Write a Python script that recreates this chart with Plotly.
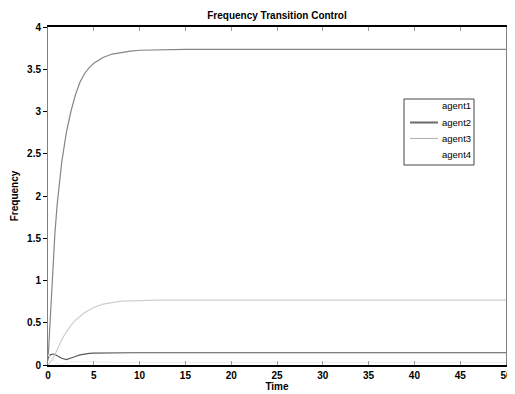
import plotly.graph_objects as go

# Time samples (s)
time = [0, 0.25, 0.5, 0.75, 1, 1.5, 2, 2.5, 3, 3.5, 4, 4.5, 5, 6, 7, 8, 9, 10, 12, 15, 20, 25, 30, 35, 40, 45, 50]

agent1 = [0.05, 0.6, 1.1, 1.55, 1.9, 2.4, 2.75, 3.0, 3.2, 3.35, 3.45, 3.52, 3.57, 3.64, 3.68, 3.70, 3.715, 3.725, 3.73, 3.735, 3.735, 3.735, 3.735, 3.735, 3.735, 3.735, 3.735]
agent2 = [0.08, 0.12, 0.13, 0.125, 0.11, 0.08, 0.065, 0.08, 0.1, 0.12, 0.13, 0.137, 0.14, 0.143, 0.144, 0.145, 0.145, 0.145, 0.145, 0.145, 0.145, 0.145, 0.145, 0.145, 0.145, 0.145, 0.145]
agent3 = [0.0, 0.03, 0.07, 0.12, 0.18, 0.3, 0.39, 0.47, 0.53, 0.58, 0.62, 0.65, 0.68, 0.72, 0.74, 0.755, 0.76, 0.765, 0.767, 0.768, 0.768, 0.768, 0.768, 0.768, 0.768, 0.768, 0.768]
agent4 = [0.12, 0.09, 0.07, 0.04, 0.02, 0.0, 0.03, 0.04, 0.04, 0.04, 0.04, 0.04, 0.04, 0.035, 0.03, 0.03, 0.03, 0.03, 0.03, 0.03, 0.03, 0.03, 0.03, 0.03, 0.03, 0.03, 0.03]

series_names = ["agent1", "agent2", "agent3", "agent4"]
series_values = [agent1, agent2, agent3, agent4]
plot_colors = ["#858585", "#5a5a5a", "#cfcfcf", "#eeeeee"]
legend_colors = [None, "#6a6a6a", "#b0b0b0", None]
legend_widths = [1, 2, 1, 1]

x_ticks = [0, 5, 10, 15, 20, 25, 30, 35, 40, 45, 50]
y_ticks = [0, 0.5, 1, 1.5, 2, 2.5, 3, 3.5, 4]
y_tick_labels = ["0", "0.5", "1", "1.5", "2", "2.5", "3", "3.5", "4"]

fig = go.Figure()
for name, vals, c in zip(series_names, series_values, plot_colors):
    fig.add_trace(go.Scatter(x=time, y=vals, mode="lines", name=name,
                             line=dict(color=c, width=1.2), showlegend=False))

tickfont = dict(family="Arial", size=10, color="black", weight="bold")

W, H = 499, 386  # page body adds an 8px offset
L, T, PW, PH = 40, 19, 458, 338

# Legend box (drawn in paper coordinates)
def px_x(p):
    return (p - 8 - L) / PW

def px_y(p):
    return (T + PH + 8 - p) / PH

fig.add_shape(type="rect", xref="paper", yref="paper",
              x0=px_x(404), x1=px_x(474), y0=px_y(165), y1=px_y(99),
              line=dict(color="#444444", width=1), fillcolor="white", layer="above")
row_y = [106, 122.5, 138.5, 154]
for name, c, w, ry in zip(series_names, legend_colors, legend_widths, row_y):
    fig.add_annotation(text=name, xref="paper", yref="paper", x=px_x(473), y=px_y(ry),
                       xanchor="right", yanchor="middle", showarrow=False,
                       font=dict(family="Arial", size=9.5, color="black"))
    if c is not None:
        fig.add_shape(type="line", xref="paper", yref="paper",
                      x0=px_x(410), x1=px_x(438), y0=px_y(ry), y1=px_y(ry),
                      line=dict(color=c, width=w), layer="above")

fig.update_layout(
    width=W, height=H,
    margin=dict(l=L, r=1, t=T, b=H - T - PH),
    paper_bgcolor="white", plot_bgcolor="white",
    title=dict(text="Frequency Transition Control", x=(L + 229) / W, xanchor="center",
               y=1 - 7 / H, yanchor="middle",
               font=dict(family="Arial", size=10, color="black", weight="bold")),
    xaxis=dict(range=[0, 50], tickvals=x_ticks, ticks="inside", ticklen=4,
               tickcolor="#999999", showline=True, linecolor="black", linewidth=2,
               mirror="ticks", showgrid=False, zeroline=False, tickfont=tickfont,
               automargin=False, ticklabeloverflow="allow",
               title=dict(text="Time", standoff=0,
                          font=dict(family="Arial", size=10, color="black", weight="bold"))),
    yaxis=dict(range=[0, 4], tickvals=y_ticks, ticktext=y_tick_labels, ticks="outside",
               ticklen=4, tickcolor="black", showline=True, linecolor="#808080",
               linewidth=1, mirror=True, showgrid=False, zeroline=False,
               tickfont=tickfont, automargin=False,
               title=dict(text="Frequency", standoff=6,
                          font=dict(family="Arial", size=10, color="black", weight="bold"))),
    yaxis2=dict(range=[0, 4], tickvals=y_ticks, overlaying="y", side="right",
                ticks="inside", ticklen=4, tickcolor="#555555", showticklabels=False,
                showgrid=False, zeroline=False, showline=False, automargin=False),
    showlegend=False,
)

fig.write_html("out.html")
